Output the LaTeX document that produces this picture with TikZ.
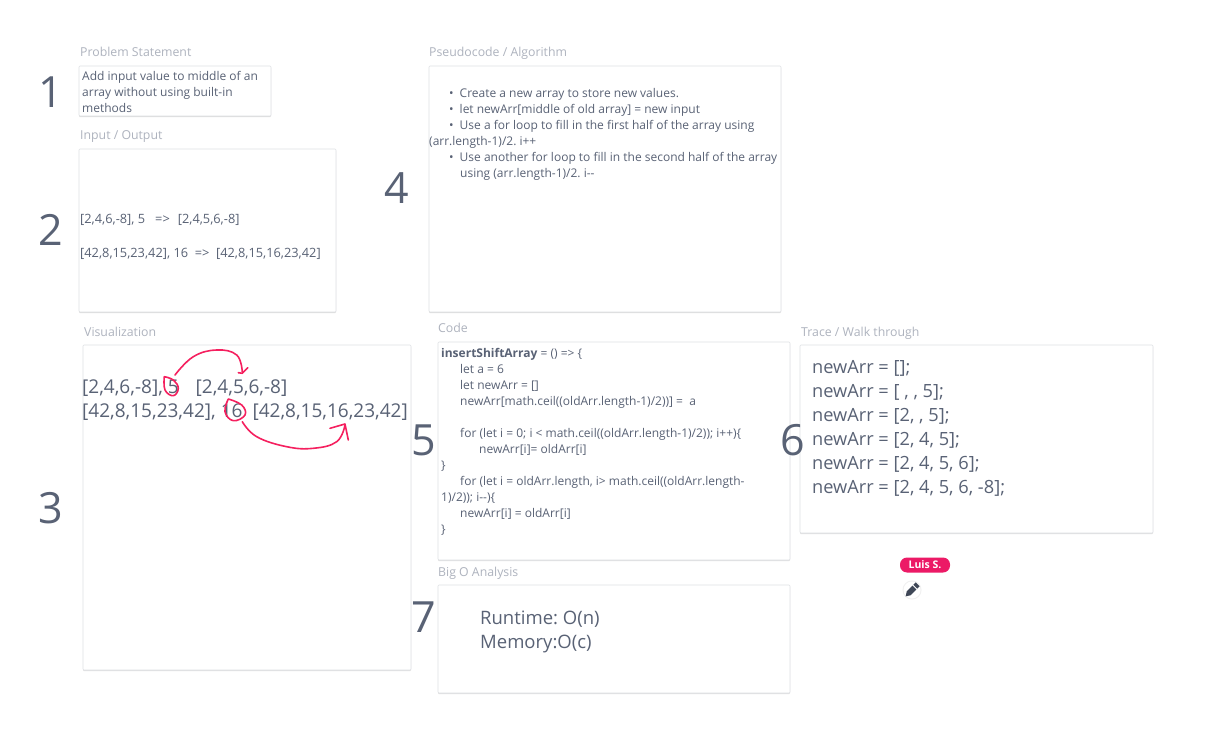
\documentclass[tikz,border=0pt]{standalone}
\usepackage{fontspec}
\setmainfont{Open Sans}
\usetikzlibrary{shadows}
\definecolor{txt}{HTML}{596275}
\definecolor{ttl}{HTML}{AEB3BE}
\definecolor{pink}{HTML}{F5205F}
\definecolor{pill}{HTML}{EC1A66}
\definecolor{edge}{HTML}{DFE1E5}
\definecolor{penc}{HTML}{3F4757}
\newcommand{\fs}[2]{\fontsize{#1}{#2}\selectfont}
\newcommand{\ind}[1]{\hspace*{#1pt}}
\tikzset{
  x=1pt,y=-1pt,
  card/.style={draw=edge,line width=.6pt,fill=white,rounded corners=1pt,
    drop shadow={shadow xshift=0pt,shadow yshift=-1.2pt,opacity=.13,fill=black}},
  ttlnode/.style={anchor=base west,inner sep=0pt,text=ttl,font=\fs{12.3}{14}},
  small/.style={anchor=north west,inner sep=0pt,text=txt,align=left,font=\fs{12}{16}},
  digits/.style={anchor=north west,inner sep=0pt,text=txt,align=left,font=\fs{12.8}{16}},
  big/.style={anchor=north west,inner sep=0pt,text=txt,align=left,font=\fs{18.2}{24}},
  num/.style={inner sep=0pt,text=txt,font=\fs{43}{46}},
  ink/.style={draw=pink,line width=1.6pt,line cap=round,line join=round}
}
\begin{document}
\frenchspacing
\begin{tikzpicture}
\useasboundingbox (0,0) rectangle (1218,743);
\fill[white] (0,0) rectangle (1218,743);
% cards
\draw[card] (79,66) rectangle (271,116);
\draw[card] (79,149) rectangle (336,312);
\draw[card] (429,66) rectangle (781,312);
\draw[card] (83,345) rectangle (411,670);
\draw[card] (438,342) rectangle (790,560);
\draw[card] (800,345) rectangle (1153,533);
\draw[card] (438,585) rectangle (790,693);
% titles
\node[ttlnode] (t1) at (80,57) {Problem Statement};
\node[ttlnode] (t2) at (80,140) {Input / Output};
\node[ttlnode] (t3) at (84,336) {Visualization};
\node[ttlnode] (t4) at (429,57) {Pseudocode / Algorithm};
\node[ttlnode] (t5) at (438,333) {Code};
\node[ttlnode] (t6) at (801,336) {Trace / Walk through};
\node[ttlnode] (t7) at (438,576) {Big O Analysis};
% numbers
\node[num] (n1) at (51,92) {1};
\node[num] (n2) at (51,230) {2};
\node[num] (n3) at (51,508) {3};
\node[num] (n4) at (397,188) {4};
\node[num] (n5) at (424,440) {5};
\node[num] (n6) at (793,440) {6};
\node[num] (n7) at (424,617) {7};
% text
\node[small] (problem) at (82,71) {Add input value to middle of an\\array without using built-in\\methods};
\node[digits] (io) at (80,214) {[2,4,6,-8], 5\ \ \ =>\ind{8}[2,4,5,6,-8]\\[18pt][42,8,15,23,42], 16\ \ =>\ \ [42,8,15,16,23,42]};
\node[small] (pseudo) at (429,88) {\ind{20}•\ind{6}Create a new array to store new values.\\
\ind{20}•\ind{6}let newArr[middle of old array] = new input\\
\ind{20}•\ind{6}Use a for loop to fill in the first half of the array using\\
(arr.length-1)/2. i++\\
\ind{20}•\ind{6}Use another for loop to fill in the second half of the array\\
\ind{31}using (arr.length-1)/2. i-{}-};
\node[big,font=\fs{19}{24}] (viz) at (82,380) {[2,4,6,-8], 5\ind{17}[2,4,5,6,-8]\\{}[42,8,15,23,42],\ind{5}16\ind{10}[42,8,15,16,23,42]};
\node[small] (code) at (441,348) {\textbf{insertShiftArray} = () => \{\\
\ind{19}let a = 6\\
\ind{19}let newArr = []\\
\ind{19}newArr[math.ceil((oldArr.length-1)/2))] =\ \ a\\[16pt]
\ind{19}for (let i = 0; i < math.ceil((oldArr.length-1)/2)); i++)\{\\
\ind{38}newArr[i]= oldArr[i]\\
\}\\
\ind{19}for (let i = oldArr.length, i> math.ceil((oldArr.length-\\
1)/2)); i-{}-)\{\\
\ind{19}newArr[i] = oldArr[i]\\
\}};
\node[big] (trace) at (812,360) {newArr = [];\\newArr = [ , , 5];\\newArr = [2, , 5];\\newArr = [2, 4, 5];\\newArr = [2, 4, 5, 6];\\newArr = [2, 4, 5, 6, -8];};
\node[big,font=\fs{18.5}{24}] (bigo) at (480,611) {Runtime: O(n)\\Memory:O(c)};
% ink
\draw[ink] plot[smooth,tension=.7] coordinates {(164.3,376.7) (165,390) (173.3,395.7) (178.3,388.3) (173.3,380) (164.3,376.7)};
\draw[ink] plot[smooth,tension=.7] coordinates {(175,375) (193.3,356.7) (216.7,350) (236.7,355) (242.3,372)};
\draw[ink] (238.3,372.7) -- (242.3,373.3) -- (247.7,367.7);
\draw[ink] plot[smooth,tension=.7] coordinates {(228.3,399) (225,411.7) (233.3,420.7) (245,415) (241.7,405) (228.3,399)};
\draw[ink] plot[smooth,tension=.7] coordinates {(242.3,421.7) (256.7,436.7) (286.7,446.7) (313.3,448.3) (336.7,441.7) (345,425)};
\draw[ink] (330,428.3) -- (345,424) -- (348.3,440);
% cursor
\node[fill=pill,text=white,rounded corners=7pt,minimum width=50pt,minimum height=15pt,inner sep=0pt,font=\fs{10.5}{12}\bfseries] (cursor) at (925,565) {Luis S.};
\begin{scope}[shift={(912,590)},rotate=-45]
\fill[black!6] (0,0) circle (9.5);
\fill[white] (0,0) circle (8.5);
\fill[penc] (-2.8,-3.4) rectangle (2.8,4.6) (-2.8,4.6) -- (2.8,4.6) -- (0,9) -- cycle (-2.8,-8) rectangle (2.8,-4.6);
\end{scope}
\end{tikzpicture}
\end{document}
